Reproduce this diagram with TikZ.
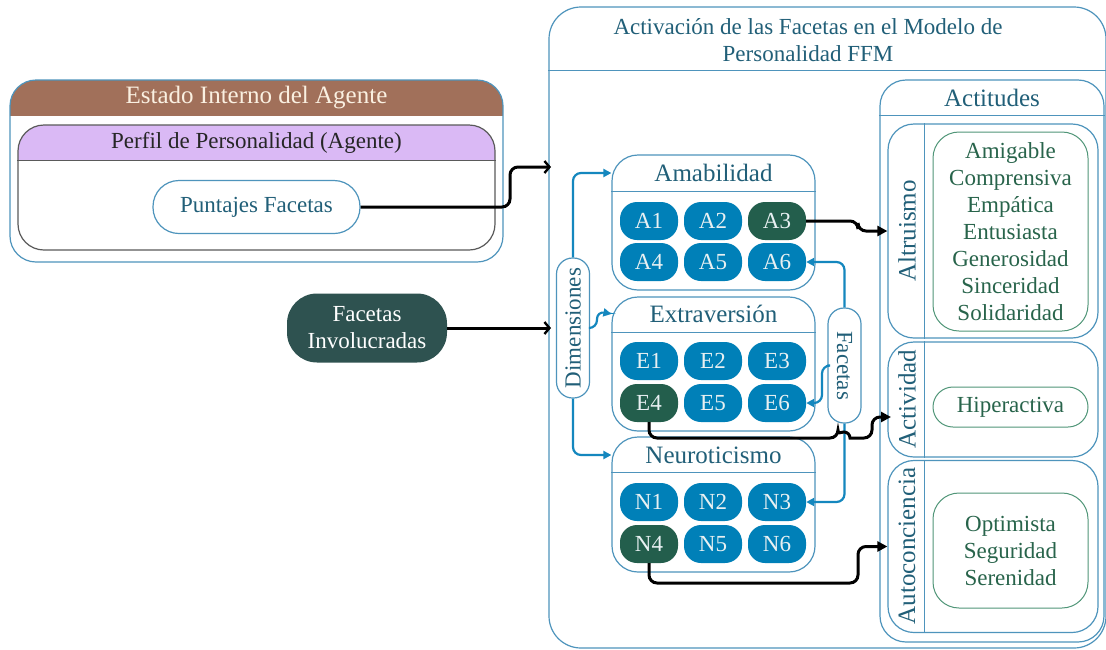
\documentclass[tikz,border=0pt]{standalone}
\usepackage{fontspec}
\setmainfont{Liberation Serif}
\usetikzlibrary{arrows.meta}

\definecolor{frameblue}{RGB}{78,148,188}
\definecolor{titleteal}{RGB}{33,95,120}
\definecolor{facetblue}{RGB}{0,128,184}
\definecolor{facetgreen}{RGB}{35,94,76}
\definecolor{facettext}{RGB}{232,240,242}
\definecolor{involfill}{RGB}{46,82,80}
\definecolor{brownhdr}{RGB}{161,112,90}
\definecolor{cream}{RGB}{250,240,225}
\definecolor{purplehdr}{RGB}{218,185,245}
\definecolor{perfilgray}{RGB}{90,90,90}
\definecolor{attgreen}{RGB}{80,150,120}
\definecolor{atttext}{RGB}{40,100,75}
\definecolor{arrowblue}{RGB}{20,135,190}

\tikzset{
  base/.style={font=\fontsize{23}{27}\selectfont},
  big/.style={font=\fontsize{25}{29}\selectfont},
  box/.style={draw=frameblue, line width=1.2pt, rounded corners=#1, inner sep=0pt, fill=white},
  hdrfill/.style 2 args={path picture={\fill[#1, sharp corners] (path picture bounding box.north west) rectangle ([yshift=-#2]path picture bounding box.north east);}},
  sep/.style={draw=frameblue, line width=1.2pt, sharp corners},
  facet/.style={base, fill=facetblue, text=facettext, rounded corners=17pt,
    minimum width=58pt, minimum height=38pt, inner sep=0pt},
  facetdark/.style={facet, fill=facetgreen},
  attbox/.style={draw=attgreen, line width=1pt, fill=white, inner sep=0pt, base, text=atttext, align=center},
  sublabel/.style={big, text=titleteal, rotate=90},
  blk/.style={draw=black, line width=3pt, rounded corners=8pt, -{Triangle[length=10pt,width=10pt]}},
  blkbarb/.style={draw=black, line width=3pt, rounded corners=8pt, -{Straight Barb[length=5pt,width=12pt,line width=2.4pt]}},
  blu/.style={draw=arrowblue, line width=2.2pt, rounded corners=8pt, -{Triangle[length=8pt,width=8pt]}},
}

\begin{document}
\begin{tikzpicture}[x=1pt,y=-1pt]
\useasboundingbox (0,0) rectangle (1106,649);
\clip (0,0) rectangle (1106,649);

% ---------- agent internal state ----------
\node[box=26pt, hdrfill={brownhdr}{36pt}, minimum width=493pt, minimum height=182pt] (estado) at (256.5,171) {};
\node[big, text=cream] (estadot) at (256.5,98) {Estado Interno del Agente};
\node[draw=perfilgray, line width=1.2pt, rounded corners=26pt, fill=white, hdrfill={purplehdr}{36pt},
      minimum width=477pt, minimum height=125pt, inner sep=0pt] (perfil) at (256.5,187.5) {};
\draw[perfilgray, line width=0.6pt] ([yshift=-36pt]perfil.north west) -- ([yshift=-36pt]perfil.north east);
\node[base, text=black!85] (perfilt) at (256.5,143) {Perfil de Personalidad (Agente)};
\node[draw=frameblue, line width=1.2pt, fill=white, rounded corners=26pt, minimum width=207pt,
      minimum height=53pt, inner sep=0pt, base, text=titleteal] (punt) at (256.5,207) {Puntajes Facetas};

% ---------- involved facets ----------
\node[fill=involfill, rounded corners=30pt, minimum width=160pt, minimum height=69pt, inner sep=0pt,
      base, text=white, align=center] (facinv) at (367,328) {Facetas\\Involucradas};

% ---------- FFM activation frame ----------
\node[box=32pt, minimum width=557pt, minimum height=641pt] (ffm) at (827.5,327.5) {};
\draw[sep] ([yshift=-64pt]ffm.north west) -- ([yshift=-64pt]ffm.north east);
\node[base, text=titleteal, align=center] (ffmt) at (808,40)
  {Activación de las Facetas en el Modelo de\\Personalidad FFM};

% ---------- dimensions ----------
\node[box=26pt, minimum width=203pt, minimum height=135pt] (amab) at (713.5,222.5) {};
\draw[sep] ([yshift=-37pt]amab.north west) -- ([yshift=-37pt]amab.north east);
\node[big, text=titleteal] (amabt) at (713.5,173) {Amabilidad};

\node[box=26pt, minimum width=203pt, minimum height=134pt] (extr) at (713.5,364) {};
\draw[sep] ([yshift=-36pt]extr.north west) -- ([yshift=-36pt]extr.north east);
\node[big, text=titleteal] (extrt) at (713.5,314) {Extraversión};

\node[box=26pt, minimum width=203pt, minimum height=135pt] (neur) at (713.5,504.5) {};
\draw[sep] ([yshift=-36pt]neur.north west) -- ([yshift=-36pt]neur.north east);
\node[big, text=titleteal] (neurt) at (713.5,455) {Neuroticismo};

\node[facet] (A1) at (649,221) {A1};
\node[facet] (A2) at (713,221) {A2};
\node[facetdark] (A3) at (777,221) {A3};
\node[facet] (A4) at (649,262) {A4};
\node[facet] (A5) at (713,262) {A5};
\node[facet] (A6) at (777,262) {A6};

\node[facet] (E1) at (649,361) {E1};
\node[facet] (E2) at (713,361) {E2};
\node[facet] (E3) at (777,361) {E3};
\node[facetdark] (E4) at (649,403) {E4};
\node[facet] (E5) at (713,403) {E5};
\node[facet] (E6) at (777,403) {E6};

\node[facet] (N1) at (649,502) {N1};
\node[facet] (N2) at (713,502) {N2};
\node[facet] (N3) at (777,502) {N3};
\node[facetdark] (N4) at (649,544) {N4};
\node[facet] (N5) at (713,544) {N5};
\node[facet] (N6) at (777,544) {N6};

% vertical pill labels
\node[box=16pt, minimum width=33pt, minimum height=140pt] (dim) at (573,328) {};
\node[base, text=titleteal, rotate=90] (dimt) at (dim) {Dimensiones};
\node[box=16pt, minimum width=33pt, minimum height=115pt] (fac) at (844.5,365.5) {};
\node[base, text=titleteal, rotate=-90] (fact) at (fac) {Facetas};

% ---------- attitudes ----------
\node[box=26pt, minimum width=224pt, minimum height=562pt] (actit) at (992,361) {};
\draw[sep] ([yshift=-36pt]actit.north west) -- ([yshift=-36pt]actit.north east);
\node[big, text=titleteal] (actitt) at (992,98) {Actitudes};

\node[box=26pt, minimum width=210pt, minimum height=214pt] (alt) at (993,231) {};
\draw[sep] ([xshift=37pt]alt.north west) -- ([xshift=37pt]alt.south west);
\node[sublabel] (altt) at (907,231) {Altruismo};
\node[attbox, rounded corners=26pt, minimum width=155pt, minimum height=199pt] (altin) at (1010.5,231.5)
  {Amigable\\Comprensiva\\Empática\\Entusiasta\\Generosidad\\Sinceridad\\Solidaridad};

\node[box=26pt, minimum width=210pt, minimum height=115pt] (actv) at (993,399.5) {};
\draw[sep] ([xshift=37pt]actv.north west) -- ([xshift=37pt]actv.south west);
\node[sublabel] (actvt) at (907,399) {Actividad};
\node[attbox, rounded corners=20pt, minimum width=155pt, minimum height=40pt] (hiper) at (1010.5,407) {Hiperactiva};

\node[box=26pt, minimum width=210pt, minimum height=172pt] (auto) at (993,546.5) {};
\draw[sep] ([xshift=37pt]auto.north west) -- ([xshift=37pt]auto.south west);
\node[sublabel] (autot) at (907,546) {Autoconciencia};
\node[attbox, rounded corners=26pt, minimum width=155pt, minimum height=115pt] (autoin) at (1010.5,550.5)
  {Optimista\\Seguridad\\Serenidad};

% ---------- connectors ----------
\coordinate (ffmin1) at (551,167);
\coordinate (ffmin2) at (551,328);
\coordinate (actvin) at (891,417);

\draw[blkbarb] (punt.east) -- (510,207) -- (510,167) -- (ffmin1);
\draw[blkbarb] (facinv.east) -- (ffmin2);

\draw[blu] (dim.north) |- (amabt -| amab.west);
\draw[blu] (dim.east) -- (597,328) -- (597,311) -- (extrt -| extr.west);
\draw[blu] (dim.south) |- (neurt -| neur.west);

\draw[blu] (fac.north) |- (A6.east);
\draw[blu] (fac.west) -- (822,365.5) -- (822,403) -- (E6.east);
\draw[blu] (fac.south) |- (N3.east);

\draw[blk] (A3.east) -- (858,221) -- (858,231) -- (alt.west);
% E4 link hops over the blue facet line
\draw[blk] (E4.south) -- (649,438) -- (838,438) [sharp corners] arc[start angle=180, end angle=360, radius=6]
  [rounded corners=8pt] -- (872,438) -- (872,417) -- (actvin);
\draw[blk] (N4.south) -- (649,583) -- (858,583) -- (858,546.5) -- (auto.west);

\end{tikzpicture}
\end{document}
